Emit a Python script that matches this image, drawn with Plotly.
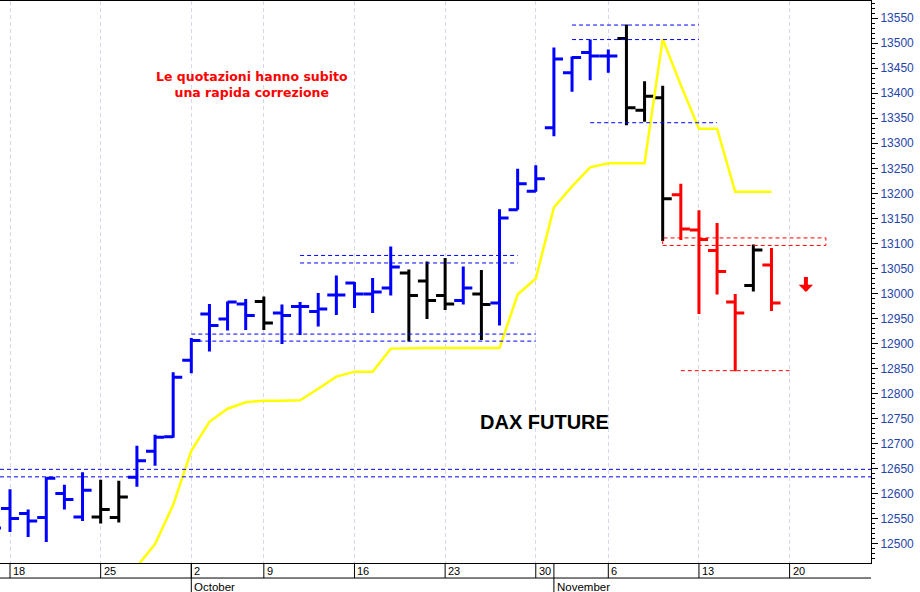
import plotly.graph_objects as go

# ---- data -------------------------------------------------------------
dates = ["2017-09-15", "2017-09-18", "2017-09-19", "2017-09-20", "2017-09-21", "2017-09-22",
         "2017-09-25", "2017-09-26", "2017-09-27", "2017-09-28", "2017-09-29",
         "2017-10-02", "2017-10-04", "2017-10-05", "2017-10-06",
         "2017-10-09", "2017-10-10", "2017-10-11", "2017-10-12", "2017-10-13",
         "2017-10-16", "2017-10-17", "2017-10-18", "2017-10-19", "2017-10-20",
         "2017-10-23", "2017-10-24", "2017-10-25", "2017-10-26", "2017-10-27",
         "2017-10-30", "2017-11-01", "2017-11-02", "2017-11-03",
         "2017-11-06", "2017-11-07", "2017-11-08", "2017-11-09", "2017-11-10",
         "2017-11-13", "2017-11-14", "2017-11-15", "2017-11-16", "2017-11-17"]
opens  = [12560, 12571, 12561, 12553, 12601, 12554, 12554, 12553, 12633, 12685, 12714,
          12867, 12959, 12949, 12979, 12984, 12961, 12974, 12964, 12997,
          13021, 12999, 13011, 13041, 13025, 12996, 12986, 12999, 12981, 13167,
          13204, 13331, 13441, 13481, 13474, 13509, 13366, 13391, 13197,
          13127, 13086, 12983, 13016, 13057]
highs  = [12580, 12609, 12569, 12633, 12618, 12643, 12628, 12626, 12696, 12718, 12843,
          12911, 12979, 12984, 12989, 12994, 12978, 12983, 13001, 13036,
          13023, 13031, 13094, 13048, 13064, 13071, 13054, 13047, 13168, 13249,
          13256, 13491, 13473, 13507, 13487, 13537, 13424, 13415, 13219,
          13166, 13141, 12999, 13098, 13091]
lows   = [12520, 12524, 12514, 12504, 12569, 12546, 12541, 12543, 12614, 12656, 12712,
          12841, 12884, 12926, 12927, 12927, 12899, 12917, 12934, 12957,
          12971, 12961, 12996, 12904, 12949, 12967, 12978, 12907, 12936, 13167,
          13203, 13314, 13403, 13426, 13441, 13336, 13343, 13105, 13107,
          12959, 12998, 12845, 13004, 12965]
closes = [12532, 12551, 12546, 12631, 12589, 12607, 12569, 12594, 12666, 12713, 12833,
          12906, 12936, 12983, 12956, 12941, 12956, 12974, 12969, 12997,
          12999, 13003, 13053, 12996, 12986, 12979, 13011, 12978, 13151, 13219,
          13229, 13468, 13471, 13474, 13474, 13371, 13394, 13189, 13129,
          13108, 13044, 12961, 13087, 12981]
trend  = ["blue", "blue", "blue", "blue", "blue", "blue", "black", "black", "blue", "blue", "blue",
          "blue", "blue", "blue", "blue", "black", "blue", "blue", "blue", "blue",
          "blue", "blue", "blue", "black", "black", "black", "blue", "black", "blue", "blue",
          "blue", "blue", "blue", "blue", "blue", "black", "black", "black", "red",
          "red", "red", "red", "black", "red"]
# yellow trailing line (None = not drawn)
stop_line = [None, None, None, None, None, None, None, None, 12455, 12500, 12578,
             12686, 12744, 12770, 12783, 12786, 12786, 12787, 12810, 12834,
             12844, 12844, 12890, 12891, 12891, 12891, 12891, 12891, 12891, 12998,
             13030, 13172, 13214, 13252, 13260, 13260, 13260, 13508, 13416,
             13329, 13329, 13203, 13203, 13203]

y_ticks = list(range(12500, 13551, 50))
y_tick_labels = [str(v) for v in y_ticks]
week_labels = ["18", "25", "2", "9", "16", "23", "30", "6", "13", "20"]
week_starts = ["2017-09-18", "2017-09-25", "2017-10-02", "2017-10-09", "2017-10-16",
               "2017-10-23", "2017-10-30", "2017-11-06", "2017-11-13", "2017-11-20"]
month_labels = ["October", "November"]
month_starts = ["2017-10-02", "2017-11-01"]

# support / resistance levels: (value, start date, end date)
blue_levels = [(12649, None, None), (12634, None, None),
               (12919, "2017-10-02", "2017-10-30"), (12905, "2017-10-02", "2017-10-30"),
               (13076, "2017-10-11", "2017-10-27"), (13061, "2017-10-11", "2017-10-27"),
               (13536, "2017-11-02", "2017-11-13"), (13507, "2017-11-02", "2017-11-13"),
               (13341, "2017-11-03", "2017-11-14")]
red_box = (13096, 13111, "2017-11-09")
red_low = (12846, "2017-11-10", "2017-11-20")

# ---- helpers -----------------------------------------------------------
all_days = dates + ["2017-11-20"]
idx = {d: i for i, d in enumerate(all_days)}
xs = list(range(len(dates)))

COL = {"blue": "#0000ff", "black": "#000000", "red": "#ff0000"}

fig = go.Figure()

for c in ["blue", "black", "red"]:
    sel = [i for i in xs if trend[i] == c]
    fig.add_trace(go.Ohlc(
        x=[xs[i] for i in sel],
        open=[opens[i] for i in sel], high=[highs[i] for i in sel],
        low=[lows[i] for i in sel], close=[closes[i] for i in sel],
        increasing=dict(line=dict(color=COL[c], width=3)),
        decreasing=dict(line=dict(color=COL[c], width=3)),
        tickwidth=0.5, showlegend=False, hoverinfo="skip"))

fig.add_trace(go.Scatter(x=xs, y=stop_line, mode="lines",
                         line=dict(color="#ffff00", width=2.5),
                         connectgaps=False, showlegend=False, hoverinfo="skip"))

shapes = []
DASH = "4px,3px"
for v, a, b in blue_levels:
    if a is None:
        shapes.append(dict(type="line", xref="paper", yref="y", x0=0, x1=1, y0=v, y1=v,
                           line=dict(color="#0000ff", width=1, dash=DASH)))
    else:
        shapes.append(dict(type="line", xref="x", yref="y", x0=idx[a], x1=idx[b], y0=v, y1=v,
                           line=dict(color="#0000ff", width=1, dash=DASH)))
shapes.append(dict(type="rect", xref="x", yref="y", x0=idx[red_box[2]], x1=46,
                   y0=red_box[0], y1=red_box[1],
                   line=dict(color="#ff0000", width=1, dash=DASH)))
shapes.append(dict(type="line", xref="x", yref="y", x0=idx[red_low[1]], x1=idx[red_low[2]],
                   y0=red_low[0], y1=red_low[0],
                   line=dict(color="#ff0000", width=1, dash=DASH)))

# x-axis label box
ROW1 = -15 / 561
ROW2 = -31 / 561
for d in week_starts:
    shapes.append(dict(type="line", xref="x", yref="paper", x0=idx[d], x1=idx[d], y0=0, y1=ROW1,
                       line=dict(color="#000000", width=1)))
for d in month_starts:
    shapes.append(dict(type="line", xref="x", yref="paper", x0=idx[d], x1=idx[d], y0=0, y1=ROW2,
                       line=dict(color="#000000", width=1)))
shapes.append(dict(type="line", xref="paper", yref="paper", x0=0, x1=1, y0=ROW1, y1=ROW1,
                   line=dict(color="#000000", width=1)))

annotations = []
for lab, d in zip(week_labels, week_starts):
    annotations.append(dict(x=idx[d], y=-7.7 / 561, xref="x", yref="paper", text=lab,
                            showarrow=False, xanchor="left", yanchor="middle", xshift=1,
                            font=dict(family="Liberation Sans, Arial", size=11, color="#000000")))
for lab, d in zip(month_labels, month_starts):
    annotations.append(dict(x=idx[d], y=-24 / 561, xref="x", yref="paper", text=lab,
                            showarrow=False, xanchor="left", yanchor="middle", xshift=1,
                            font=dict(family="Liberation Sans, Arial", size=11.5, color="#000000")))

annotations.append(dict(x=14.35, y=13418, xref="x", yref="y",
                        text="<b>Le quotazioni hanno subito<br>una rapida correzione</b>",
                        showarrow=False, align="center",
                        font=dict(family="DejaVu Sans", size=12.5, color="#ff0000")))
annotations.append(dict(x=30.48, y=12744, xref="x", yref="y", text="<b>DAX FUTURE</b>",
                        showarrow=False,
                        font=dict(family="Liberation Sans, Arial", size=20, color="#000000")))
annotations.append(dict(x=44.9, y=13003, xref="x", yref="y", ax=44.9, ay=13036,
                        axref="x", ayref="y", text="", showarrow=True,
                        arrowhead=1, arrowsize=0.6, arrowwidth=4, arrowcolor="#ff0000"))

fig.update_layout(
    width=920, height=592,
    margin=dict(l=0, r=49, t=1, b=29),
    paper_bgcolor="white", plot_bgcolor="white",
    shapes=shapes, annotations=annotations,
    xaxis=dict(range=[0.448, 48.49], tickvals=[idx[d] for d in week_starts],
               showticklabels=False, ticks="", showgrid=True, gridcolor="#d6d6ee",
               gridwidth=1, griddash=DASH, zeroline=False,
               showline=True, linecolor="#000000", linewidth=1, mirror=True,
               rangeslider=dict(visible=False)),
    yaxis=dict(range=[12462, 13584], side="right",
               tickvals=y_ticks, ticktext=y_tick_labels,
               ticks="outside", ticklen=6, tickcolor="#000000", tickwidth=1,
               minor=dict(dtick=10, ticks="outside", ticklen=3, tickcolor="#000000", showgrid=False),
               showgrid=False, zeroline=False,
               showline=True, linecolor="#000000", linewidth=1,
               tickfont=dict(family="Liberation Sans, Arial", size=12, color="#1f45a8")),
)

fig.write_html("out.html", config={"displayModeBar": False},
               post_script="document.body.style.margin='0';document.body.style.padding='0';")
